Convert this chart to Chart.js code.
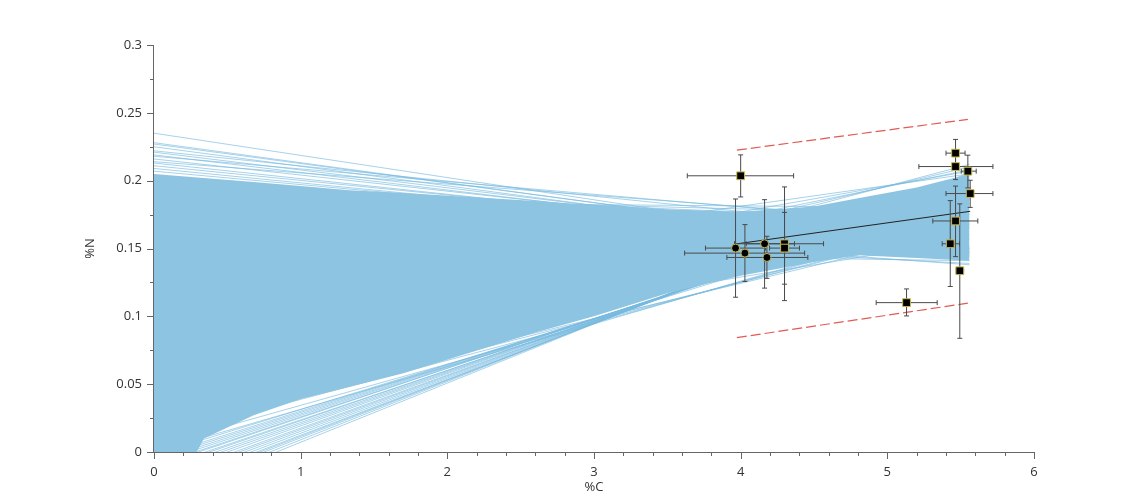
<!DOCTYPE html>
<html>
<head>
<meta charset="utf-8">
<script src="https://cdn.jsdelivr.net/npm/chart.js@4.4.1/dist/chart.umd.min.js"></script>
<style>
  body { margin: 0; background: #fff; }
  #wrap { width: 1143px; height: 499px; }
</style>
</head>
<body>
<div id="wrap"><canvas id="chart" width="1143" height="499"></canvas></div>
<script>
// measured samples: %C, %N and their error ranges
const sampleC = [4.000, 3.965, 4.029, 4.163, 4.179, 4.299, 4.299, 5.131, 5.465, 5.465, 5.549, 5.565, 5.465, 5.429, 5.494]
const sampleN = [0.2036, 0.1503, 0.1466, 0.1535, 0.1434, 0.1535, 0.1503, 0.1101, 0.2203, 0.2104, 0.2070, 0.1905, 0.1703, 0.1535, 0.1336]
const cLow  = [3.636, 3.760, 3.618, 3.958, 3.906, 4.038, 4.197, 4.924, 5.400, 5.215, 5.504, 5.400, 5.310, 5.374, 5.470]
const cHigh = [4.361, 4.170, 4.436, 4.367, 4.458, 4.565, 4.401, 5.340, 5.530, 5.720, 5.606, 5.720, 5.617, 5.492, 5.520]
const nLow  = [0.1880, 0.1141, 0.1257, 0.1208, 0.1280, 0.1116, 0.1237, 0.1003, 0.2102, 0.2008, 0.1947, 0.1803, 0.1440, 0.1220, 0.0838]
const nHigh = [0.2190, 0.1865, 0.1676, 0.1860, 0.1590, 0.1954, 0.1766, 0.1202, 0.2304, 0.2200, 0.2188, 0.2003, 0.1960, 0.1853, 0.1829]
const roundMarker = [false, true, true, true, true, false, false, false, false, false, false, false, false, false, false]

// regression line and prediction bounds
const fitC = [3.965, 5.565]
const fitN = [0.1533, 0.1774]
const bandC = [3.974, 5.549]
const bandUpper = [0.2225, 0.2452]
const bandLower = [0.0843, 0.1097]

// bootstrap fan: dense core outline
const coreC      = [0,     0.34,  0.68,  1.0,   1.33,  1.7,   2.6,   3.0,   3.5,   4.0,   4.5,   4.8,   5.2,   5.56]
const coreTop    = [0.205, 0.202, 0.199, 0.196, 0.193, 0.191, 0.185, 0.182, 0.179, 0.177, 0.181, 0.187, 0.195, 0.205]
const coreBottom = [-0.06, 0.010, 0.027, 0.039, 0.048, 0.058, 0.088, 0.100, 0.117, 0.130, 0.140, 0.145, 0.143, 0.141]

// bootstrap fan: loose lines at the edges (%N at %C = 0 and at the right end)
const fanC = [0, 5.56]
const fanStart = [0.235, 0.228, 0.227, 0.225, 0.221, 0.219, 0.216, 0.213, 0.211, 0.209, 0.207,
    0.222, 0.218, 0.214, 0.195, 0.190, 0.185,
    0.053, 0.070, 0.085, 0.100, 0.120,
    -0.0364, -0.0340, -0.0317, -0.0300, -0.0288, -0.0268, -0.0248, -0.0230, -0.0215, -0.0193, -0.0175,
    -0.0158, -0.0140, -0.0128, -0.0110, -0.0101, -0.0085, -0.0070, -0.0055, -0.0041, -0.0020, 0.000, 0.004, 0.010, 0.015, 0.020,
    0.182, 0.170, 0.150, 0.057]
const fanEnd = [0.144, 0.146, 0.147, 0.145, 0.148, 0.147, 0.150, 0.149, 0.151, 0.150, 0.152,
    0.160, 0.166, 0.168, 0.170, 0.175, 0.180,
    0.212, 0.210, 0.208, 0.207, 0.205,
    0.206, 0.205, 0.203, 0.201, 0.200, 0.199, 0.198, 0.197, 0.196, 0.195, 0.194,
    0.193, 0.192, 0.190, 0.191, 0.190, 0.189, 0.188, 0.187, 0.186, 0.183, 0.175, 0.173, 0.170, 0.168, 0.165,
    0.138, 0.139, 0.141, 0.157]

const xLabels = [0, 1, 2, 3, 4, 5, 6]
const yLabels = [0, 0.05, 0.1, 0.15, 0.2, 0.25, 0.3]

function isLabel(list, v) {
    return list.some(l => Math.abs(l - v) < 1e-6)
}

function pairs(xs, ys) {
    return xs.map((x, i) => ({ x: x, y: ys[i] }))
}

const datasets = []

datasets.push({
    label: 'samples',
    data: pairs(sampleC, sampleN),
    showLine: false,
    pointStyle: roundMarker.map(r => r ? 'circle' : 'rect'),
    pointRadius: roundMarker.map(r => r ? 4 : 5.5),
    pointBackgroundColor: '#000',
    pointBorderColor: '#c9b84c',
    pointBorderWidth: 1,
    order: 0
})
datasets.push({
    label: 'fit',
    data: pairs(fitC, fitN),
    borderColor: '#222',
    borderWidth: 1,
    pointRadius: 0,
    order: 1
})
datasets.push({
    label: 'upper',
    data: pairs(bandC, bandUpper),
    borderColor: 'rgba(222,60,55,0.85)',
    borderWidth: 1.2,
    borderDash: [10, 4],
    pointRadius: 0,
    order: 1
})
datasets.push({
    label: 'lower',
    data: pairs(bandC, bandLower),
    borderColor: 'rgba(222,60,55,0.85)',
    borderWidth: 1.2,
    borderDash: [10, 4],
    pointRadius: 0,
    order: 1
})
datasets.push({
    label: 'coreTop',
    data: pairs(coreC, coreTop),
    borderWidth: 0,
    borderColor: 'rgba(0,0,0,0)',
    backgroundColor: '#8cc4e2',
    fill: '+1',
    pointRadius: 0,
    order: 4
})
datasets.push({
    label: 'coreBottom',
    data: pairs(coreC, coreBottom),
    borderWidth: 0,
    borderColor: 'rgba(0,0,0,0)',
    pointRadius: 0,
    fill: false,
    order: 4
})
fanStart.forEach((a, i) => {
    datasets.push({
        label: 'fan' + i,
        data: pairs(fanC, [a, fanEnd[i]]),
        borderColor: 'rgba(120,186,222,0.65)',
        borderWidth: 1,
        pointRadius: 0,
        order: 5
    })
})

const errorBars = {
    id: 'errorBars',
    afterDatasetDraw(chart, args) {
        if (chart.data.datasets[args.index].label !== 'fit') return
        const ctx = chart.ctx
        const xs = chart.scales.x
        const ys = chart.scales.y
        const cap = 2.5
        ctx.save()
        ctx.strokeStyle = '#4a4a4a'
        ctx.lineWidth = 1
        ctx.beginPath()
        sampleC.forEach((c, i) => {
            const px = xs.getPixelForValue(c)
            const py = ys.getPixelForValue(sampleN[i])
            const x0 = xs.getPixelForValue(cLow[i])
            const x1 = xs.getPixelForValue(cHigh[i])
            const y0 = ys.getPixelForValue(nLow[i])
            const y1 = ys.getPixelForValue(nHigh[i])
            ctx.moveTo(x0, py); ctx.lineTo(x1, py)
            ctx.moveTo(x0, py - cap); ctx.lineTo(x0, py + cap)
            ctx.moveTo(x1, py - cap); ctx.lineTo(x1, py + cap)
            ctx.moveTo(px, y0); ctx.lineTo(px, y1)
            ctx.moveTo(px - cap, y0); ctx.lineTo(px + cap, y0)
            ctx.moveTo(px - cap, y1); ctx.lineTo(px + cap, y1)
        })
        ctx.stroke()
        ctx.restore()
    }
}

const axisMarks = {
    id: 'axisMarks',
    afterDraw(chart) {
        const ctx = chart.ctx
        const xs = chart.scales.x
        const ys = chart.scales.y
        const a = chart.chartArea
        ctx.save()
        ctx.strokeStyle = '#666'
        ctx.lineWidth = 1
        ctx.beginPath()
        ctx.moveTo(a.left, a.bottom + 0.5); ctx.lineTo(a.right, a.bottom + 0.5)
        ctx.moveTo(a.left - 0.5, a.top); ctx.lineTo(a.left - 0.5, a.bottom + 0.5)
        xs.ticks.forEach(t => {
            const px = Math.round(xs.getPixelForValue(t.value)) + 0.5
            const len = isLabel(xLabels, t.value) ? 7 : 4
            ctx.moveTo(px, a.bottom); ctx.lineTo(px, a.bottom + len)
        })
        ys.ticks.forEach(t => {
            const py = Math.round(ys.getPixelForValue(t.value)) + 0.5
            const len = isLabel(yLabels, t.value) ? 7 : 4
            ctx.moveTo(a.left, py); ctx.lineTo(a.left - len, py)
        })
        ctx.stroke()
        ctx.restore()
    }
}

const tickFont = { family: 'Open Sans', size: 13 }

new Chart(document.getElementById('chart'), {
    type: 'line',
    data: { datasets: datasets },
    plugins: [errorBars, axisMarks],
    options: {
        responsive: false,
        animation: false,
        layout: { padding: { top: 45, right: 109, left: 0, bottom: 0 } },
        plugins: { legend: { display: false }, tooltip: { enabled: false } },
        elements: { line: { tension: 0 } },
        scales: {
            x: {
                type: 'linear',
                min: 0,
                max: 6,
                grid: { display: false, drawTicks: false },
                border: { display: false },
                ticks: {
                    stepSize: 0.2,
                    autoSkip: false,
                    maxRotation: 0,
                    padding: 12,
                    color: '#333',
                    font: tickFont,
                    callback: v => isLabel(xLabels, v) ? String(Math.round(v)) : ''
                },
                title: { display: true, text: '%C', color: '#333', font: tickFont, padding: { top: 0, bottom: 4 } },
                afterFit: s => { s.height = 47 }
            },
            y: {
                min: 0,
                max: 0.3,
                grid: { display: false, drawTicks: false },
                border: { display: false },
                ticks: {
                    stepSize: 0.025,
                    autoSkip: false,
                    padding: 12,
                    color: '#333',
                    font: tickFont,
                    callback: v => isLabel(yLabels, v) ? String(parseFloat(v.toFixed(2))) : ''
                },
                title: { display: true, text: '%N', color: '#333', font: tickFont, padding: { top: 82, bottom: 0 } },
                afterFit: s => { s.width = 154 }
            }
        }
    }
})
</script>
</body>
</html>
